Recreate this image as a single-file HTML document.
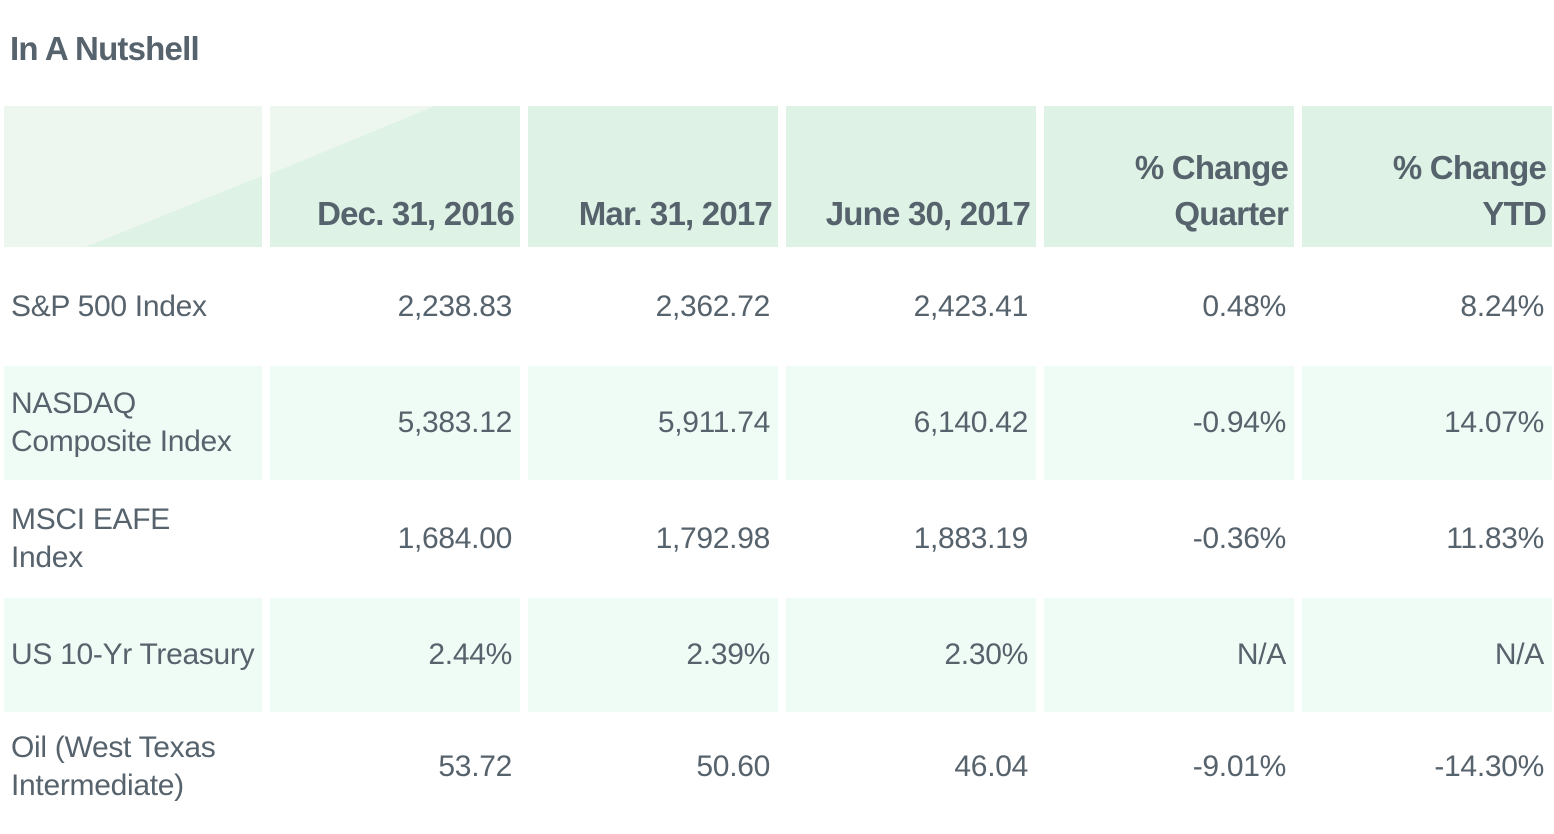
<!DOCTYPE html>
<html><head><meta charset="utf-8"><style>
body{margin:0;width:1554px;height:834px;background:#fff;position:relative;overflow:hidden;font-family:"Liberation Sans",sans-serif;color:#56626c}
.t{position:absolute;left:10px;top:30px;font-size:33px;font-weight:bold;letter-spacing:-0.8px;color:#56626c}
.c{position:absolute;box-sizing:border-box}
.h{background:#dff2e6;font-weight:bold;font-size:33px;letter-spacing:-0.8px;text-align:right;display:flex;flex-direction:column;justify-content:flex-end;padding:0 6px 10px 0;line-height:46px}
.d{font-size:30px;letter-spacing:-0.3px;display:flex;align-items:center;justify-content:flex-end;padding-right:8px;line-height:38px}
.d.l{justify-content:flex-start;padding-left:7px;padding-right:0}
.g{background:#effcf5}
</style></head><body>
<div class="t">In A Nutshell</div>
<svg style="position:absolute;left:0;top:0" width="1554" height="260">
<rect x="4" y="106" width="258" height="141" fill="#dff2e6"/>
<rect x="270" y="106" width="250" height="141" fill="#dff2e6"/>
<polygon points="4,106 262,106 262,176 85,247 4,247" fill="#edf7ef"/>
<polygon points="270,106 435,106 270,174" fill="#edf7ef"/>
</svg>
<div id="tbl"></div>
<script>
const columns=["","Dec. 31, 2016","Mar. 31, 2017","June 30, 2017","% Change<br>Quarter","% Change<br>YTD"];
const rowLabels=["S&amp;P 500 Index","NASDAQ<br>Composite Index","MSCI EAFE<br>Index","US 10-Yr Treasury","Oil (West Texas<br>Intermediate)"];
const dec2016=["2,238.83","5,383.12","1,684.00","2.44%","53.72"];
const mar2017=["2,362.72","5,911.74","1,792.98","2.39%","50.60"];
const jun2017=["2,423.41","6,140.42","1,883.19","2.30%","46.04"];
const chgQ=["0.48%","-0.94%","-0.36%","N/A","-9.01%"];
const chgYTD=["8.24%","14.07%","11.83%","N/A","-14.30%"];
const xs=[4,270,528,786,1044,1302],ws=[258,250,250,250,250,250];
const rowTop=[248,366,480,598,712],rowH=[118,114,118,114,110];
const tbl=document.getElementById('tbl');
for(let i=2;i<6;i++){
  const e=document.createElement('div');e.className='c h';
  
  
  e.style.cssText=`left:${xs[i]}px;top:106px;width:${ws[i]}px;height:141px`;
  e.innerHTML='<div>'+columns[i]+'</div>';tbl.appendChild(e);
}
{const e=document.createElement('div');e.className='c h';


e.style.cssText=`left:${xs[1]}px;top:106px;width:${ws[1]}px;height:141px;background:none`;
e.innerHTML='<div>'+columns[1]+'</div>';tbl.appendChild(e);}
const cols=[rowLabels,dec2016,mar2017,jun2017,chgQ,chgYTD];
for(let r=0;r<5;r++){
  for(let c=0;c<6;c++){
    const e=document.createElement('div');
    e.className='c d'+(c==0?' l':'')+(r%2==1?' g':'');
    
    
    e.style.cssText=`left:${xs[c]}px;top:${rowTop[r]}px;width:${ws[c]}px;height:${rowH[r]}px`;
    e.innerHTML='<div>'+cols[c][r]+'</div>';tbl.appendChild(e);
  }
}
</script>
</body></html>
